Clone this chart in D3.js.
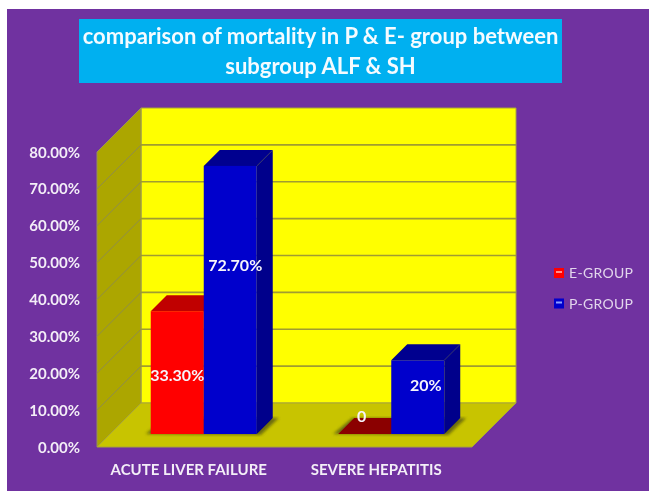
<!DOCTYPE html>
<html><head><meta charset="utf-8">
<script src="https://cdnjs.cloudflare.com/ajax/libs/d3/7.8.5/d3.min.js"></script>
<style>html,body{margin:0;padding:0;background:#fff}svg{display:block}text{font-family:Lato,"Open Sans",sans-serif}</style>
</head><body><svg id="c" width="649" height="491"></svg>
<script>
const categories = ["ACUTE LIVER FAILURE", "SEVERE HEPATITIS"];
const seriesNames = ["E-GROUP", "P-GROUP"];
const eGroup = [33.3, 0];
const pGroup = [72.7, 20];
const eLabels = ["33.30%", "0"];
const pLabels = ["72.70%", "20%"];
const yTicks = [0, 10, 20, 30, 40, 50, 60, 70, 80];
const titleLines = ["comparison of mortality in P & E- group between", "subgroup ALF & SH"];

const svg = d3.select("#c");
const defs = svg.append("defs");
defs.append("filter").attr("id","soft").append("feGaussianBlur").attr("stdDeviation",0.55);
defs.append("filter").attr("id","shadow").append("feGaussianBlur").attr("stdDeviation",1.5);
const root = svg.append("g").attr("filter","url(#soft)");

const wallDepth = 44, barShift = 13, barDepth = 16;
const y = d3.scaleLinear().domain([0,80]).range([447,152]);
const x0 = d3.scaleBand().domain(categories).range([97,472]);
const x1 = d3.scaleBand().domain(seriesNames).range([0,106]);
const poly = (pts,fill,stroke) => root.append("polygon").attr("points",pts.map(p=>p.join(",")).join(" ")).attr("fill",fill).attr("stroke",stroke||"none").attr("stroke-width",stroke?1:0);

root.append("rect").attr("x",7).attr("y",9).attr("width",642).attr("height",482).attr("fill","#7030a0");
root.append("rect").attr("x",79).attr("y",19).attr("width",483).attr("height",64).attr("fill","#00b0f0");
root.selectAll(".title").data(titleLines).join("text").attr("x",320.5).attr("y",(d,i)=>44+i*30)
  .attr("text-anchor","middle").attr("font-size",22).attr("font-weight",700).attr("fill","#f4fbff").text(d=>d);

const L=x0.range()[0], R=x0.range()[1], B=y(0), T=y(80), D=wallDepth;
poly([[L+D,T-D],[R+D,T-D],[R+D,B-D],[L+D,B-D]],"#ffff00","#a8a43a");
poly([[L,T],[L+D,T-D],[L+D,B-D],[L,B]],"#aca600","#96925a");
poly([[L,B],[L+D,B-D],[R+D,B-D],[R,B]],"#c8c400","#a8a43a");
yTicks.slice(1,-1).forEach(t=>{
  root.append("line").attr("x1",L+D).attr("x2",R+D).attr("y1",y(t)-D).attr("y2",y(t)-D).attr("stroke","#a09c30").attr("stroke-width",1.6);
  root.append("line").attr("x1",L).attr("x2",L+D).attr("y1",y(t)).attr("y2",y(t)-D).attr("stroke","#8f8c4a").attr("stroke-width",1);
});
root.selectAll(".yl").data(yTicks).join("text").attr("x",80).attr("y",d=>y(d)+5.5).attr("text-anchor","end")
  .attr("font-size",15).attr("font-weight",700).attr("fill","#f3eef7").text(d=>d.toFixed(2)+"%");
root.selectAll(".xl").data(categories).join("text").attr("x",d=>x0(d)+x0.bandwidth()/2-2).attr("y",475)
  .attr("text-anchor","middle").attr("font-size",15).attr("font-weight",700).attr("fill","#f3eef7").text(d=>d);

const palette = {
  "E-GROUP": {front:"#ff0000", top:"#c00000", side:"#a00000", flat:"#8b0000"},
  "P-GROUP": {front:"#0000cc", top:"#00008f", side:"#00008b", flat:"#00008b"}
};
const bars = [];
categories.forEach((c,i)=>{ bars.push({c,s:"E-GROUP",v:eGroup[i]}); bars.push({c,s:"P-GROUP",v:pGroup[i]}); });
const gap = (x0.bandwidth()-x1.range()[1])/2;
bars.forEach(b=>{ b.x = x0(b.c)+barShift+gap+x1(b.s); b.w = x1.bandwidth(); b.y0=y(0)-barShift; b.y1=y(b.v)-barShift; });
categories.forEach(c=>{
  const xs = x0(c)+barShift+gap, d=barDepth;
  root.append("polygon").attr("points",[[xs-5,y(0)-barShift],[xs+d-2,y(0)-barShift-d],[xs+106+d+6,y(0)-barShift-d],[xs+106+4,y(0)-barShift+1]].map(p=>p.join(",")).join(" "))
    .attr("fill","#55550a").attr("opacity",.8).attr("filter","url(#shadow)");
});
bars.forEach(b=>{
  const p=palette[b.s], d=barDepth;
  if(b.v===0){ poly([[b.x,b.y0],[b.x+d,b.y0-d],[b.x+b.w+d,b.y0-d],[b.x+b.w,b.y0]],p.flat); return; }
  poly([[b.x,b.y1],[b.x+d,b.y1-d],[b.x+b.w+d,b.y1-d],[b.x+b.w,b.y1]],p.top);
  poly([[b.x+b.w,b.y1],[b.x+b.w+d,b.y1-d],[b.x+b.w+d,b.y0-d],[b.x+b.w,b.y0]],p.side);
  root.append("rect").attr("x",b.x).attr("y",b.y1).attr("width",b.w).attr("height",b.y0-b.y1).attr("fill",p.front);
});
const valueLabels = [
  {s:"E-GROUP",i:0,t:eLabels[0],dx:0,dy:3},
  {s:"P-GROUP",i:0,t:pLabels[0],dx:5,dy:-34},
  {s:"E-GROUP",i:1,t:eLabels[1],dx:-3,dy:-17},
  {s:"P-GROUP",i:1,t:pLabels[1],dx:8,dy:-11}
];
valueLabels.forEach(l=>{
  const b=bars.find(q=>q.c===categories[l.i]&&q.s===l.s);
  root.append("text").attr("x",b.x+b.w/2+l.dx).attr("y",(b.y0+b.y1)/2+l.dy+5)
    .attr("text-anchor","middle").attr("font-size",16).attr("font-weight",700).attr("fill","#f6f4fb").text(l.t);
});
seriesNames.forEach((s,i)=>{
  const ly=268+i*30.5;
  const p=palette[s];
  root.append("rect").attr("x",554).attr("y",ly).attr("width",10).attr("height",10).attr("fill",p.front);
  root.append("rect").attr("x",556).attr("y",ly+3).attr("width",6).attr("height",2).attr("fill",i?"#8fa0ff":"#ff9090");
  root.append("text").attr("x",569).attr("y",ly+10).attr("font-size",14).attr("letter-spacing",0.3).attr("fill","#e2d6ec").text(s);
});
</script></body></html>
